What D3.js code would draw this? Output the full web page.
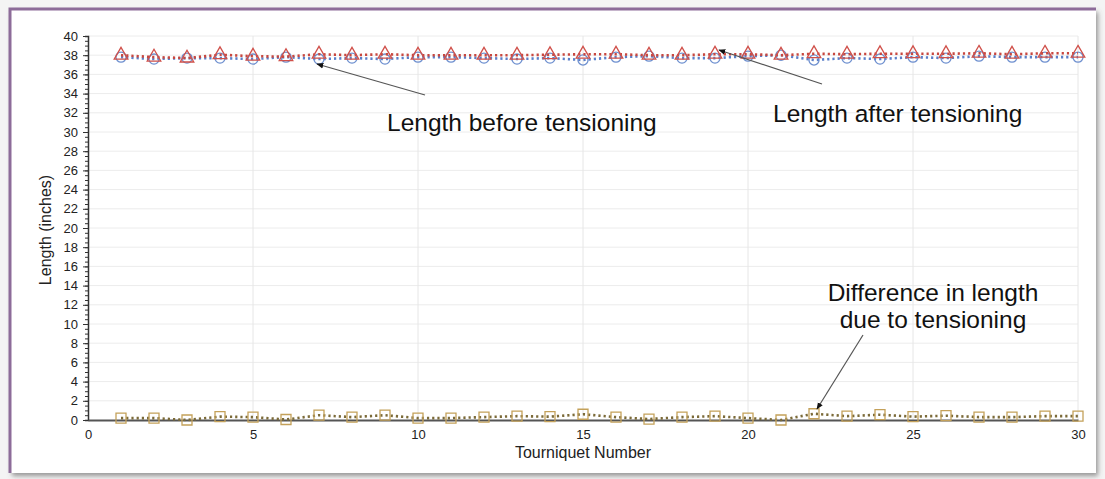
<!DOCTYPE html>
<html><head><meta charset="utf-8">
<script src="https://cdn.jsdelivr.net/npm/d3@7"></script>
<style>html,body{margin:0;padding:0;background:#fff;}svg{display:block;font-family:"Liberation Sans",Arial,sans-serif;}</style>
</head><body>
<svg id="c" width="1105" height="479"></svg>
<script>
const tourniquets = d3.range(1, 31);
const lengthBefore = [37.8,37.6,37.7,37.7,37.6,37.8,37.6,37.7,37.6,37.8,37.8,37.7,37.6,37.7,37.5,37.8,37.9,37.7,37.7,37.9,38.0,37.5,37.7,37.6,37.8,37.7,37.9,37.8,37.8,37.8];
const lengthAfter  = [38.0,37.8,37.7,38.05,37.9,37.85,38.1,38.0,38.1,38.0,38.0,38.0,38.0,38.05,38.1,38.1,38.0,38.0,38.1,38.1,38.0,38.15,38.1,38.15,38.15,38.15,38.2,38.1,38.2,38.2];
const lengthDiff   = [0.2,0.2,0.0,0.35,0.3,0.05,0.5,0.3,0.5,0.2,0.2,0.3,0.4,0.35,0.6,0.3,0.1,0.3,0.4,0.2,0.0,0.65,0.4,0.55,0.35,0.45,0.3,0.3,0.4,0.4];
const xTicks = [0,5,10,15,20,25,30];
const yTicks = d3.range(0, 41, 2);

const svg = d3.select("#c");
const defs = svg.append("defs");
const f = defs.append("filter").attr("id","sh").attr("x","-5%").attr("y","-5%").attr("width","110%").attr("height","112%");
f.append("feDropShadow").attr("dx",2).attr("dy",3).attr("stdDeviation",2.5).attr("flood-color","#555").attr("flood-opacity",0.6);
svg.append("rect").attr("width",1105).attr("height",479).attr("fill","#f4f4f4");
svg.append("rect").attr("x",10).attr("y",9).attr("width",1086).attr("height",464).attr("fill","#fff").attr("filter","url(#sh)");
svg.append("path").attr("d","M10,473 L10,9 L1096,9").attr("fill","none").attr("stroke","#8d6c99").attr("stroke-width",3);

const x = d3.scaleLinear().domain([0,30]).range([88,1078]);
const y = d3.scaleLinear().domain([0,40]).range([420,36]);
const g = svg.append("g");

g.selectAll(".hg").data(yTicks.filter(d=>d>0)).join("line")
  .attr("x1",x(0)).attr("x2",x(30)).attr("y1",d=>y(d)).attr("y2",d=>y(d))
  .attr("stroke","#ececec").attr("stroke-width",1);
g.selectAll(".vg").data(xTicks.filter(d=>d>0)).join("line")
  .attr("x1",d=>x(d)).attr("x2",d=>x(d)).attr("y1",y(40)).attr("y2",y(0))
  .attr("stroke","#e6e6e6").attr("stroke-width",1);

const yMinor = d3.range(0, 40.01, 0.5);
g.append("g").attr("transform",`translate(${x(0)},0)`)
  .call(d3.axisLeft(y).tickValues(yMinor).tickSize(3).tickFormat(""))
  .call(a=>{a.select(".domain").attr("stroke","#333").attr("stroke-width",1.5);a.selectAll("line").attr("stroke","#333");});
g.append("g").attr("transform",`translate(${x(0)},0)`)
  .call(d3.axisLeft(y).tickValues(yTicks).tickSize(5).tickPadding(5))
  .call(a=>{a.select(".domain").remove();a.selectAll("line").attr("stroke","#333");a.selectAll("text").attr("font-size",13).attr("fill","#222").attr("font-family","Liberation Sans, Arial");});
g.append("g").attr("transform",`translate(0,${y(0)})`)
  .call(d3.axisBottom(x).tickValues(xTicks).tickSize(0).tickPadding(10))
  .call(a=>{a.select(".domain").attr("stroke","#555").attr("stroke-width",2);a.selectAll("text").attr("font-size",13).attr("fill","#222").attr("font-family","Liberation Sans, Arial");});

svg.append("text").attr("x",x(15)).attr("y",458).attr("text-anchor","middle").attr("font-size",16).attr("fill","#222").text("Tourniquet Number");
svg.append("text").attr("transform",`translate(51,${y(20)+2}) rotate(-90)`).attr("text-anchor","middle").attr("font-size",16).attr("fill","#222").text("Length (inches)");

function series(vals, lineColor, markerColor, shape){
  const line = d3.line().x((d,i)=>x(tourniquets[i])).y(d=>y(d));
  g.append("path").datum(vals).attr("d",line).attr("fill","none")
    .attr("stroke",lineColor).attr("stroke-width",2.6).attr("stroke-dasharray","2.2,3");
  const sym = d3.symbol().type(shape).size(shape===d3.symbolSquare?100:80);
  g.selectAll(null).data(vals).join("path")
    .attr("transform",(d,i)=>`translate(${x(tourniquets[i])},${y(d)})`)
    .attr("d",sym).attr("fill","none").attr("stroke",markerColor).attr("stroke-width",1.3);
}
series(lengthBefore, "#5a7fc8", "#6d8fcf", d3.symbolCircle);
series(lengthAfter, "#c8473f", "#d0504a", d3.symbolTriangle);
series(lengthDiff, "#7b6a38", "#c4a15a", d3.symbolSquare);

const mk = defs.append("marker").attr("id","ah").attr("viewBox","0 0 10 10").attr("refX",9).attr("refY",5)
  .attr("markerWidth",7).attr("markerHeight",7).attr("orient","auto-start-reverse").attr("markerUnits","userSpaceOnUse");
mk.append("path").attr("d","M0,1 L10,5 L0,9 z").attr("fill","#111");
function arrow(x1,y1,x2,y2){
  svg.append("line").attr("x1",x1).attr("y1",y1).attr("x2",x2).attr("y2",y2)
    .attr("stroke","#555").attr("stroke-width",1.2).attr("marker-end","url(#ah)");
}
arrow(425,95,317,64);
arrow(822,84,719,50);
arrow(863,335,817,409);
svg.append("text").attr("x",387).attr("y",131).attr("font-size",24.5).attr("fill","#111").text("Length before tensioning");
svg.append("text").attr("x",773).attr("y",122).attr("font-size",24.5).attr("fill","#111").text("Length after tensioning");
svg.append("text").attr("x",933).attr("y",301).attr("text-anchor","middle").attr("font-size",24.5).attr("fill","#111").text("Difference in length");
svg.append("text").attr("x",933).attr("y",328).attr("text-anchor","middle").attr("font-size",24.5).attr("fill","#111").text("due to tensioning");
</script>
</body></html>
